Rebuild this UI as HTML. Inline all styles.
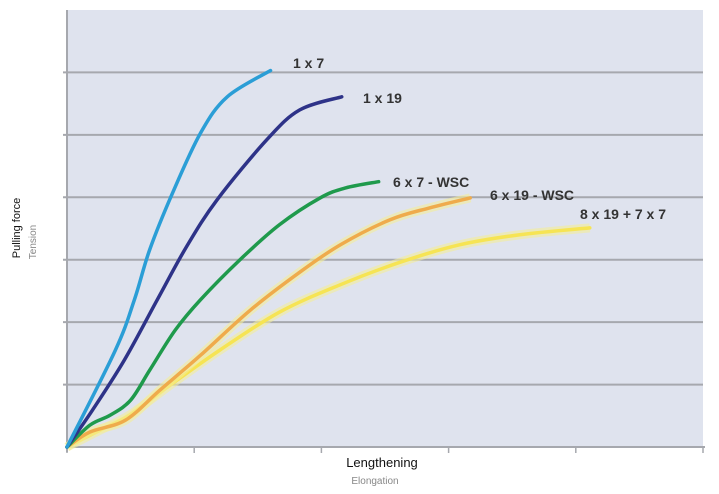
<!DOCTYPE html>
<html><head><meta charset="utf-8"><style>
body{margin:0;background:#fff;width:719px;height:489px;overflow:hidden;font-family:"Liberation Sans",sans-serif}
</style></head><body>
<svg id="chart" width="719" height="489">
<rect x="67" y="10" width="636" height="437" fill="#dfe3ee"/>
<g id="grid"></g><g id="series"></g><g id="labels"></g>
<text transform="translate(20,228) rotate(-90)" text-anchor="middle" font-size="11" fill="#111">Pulling force</text>
<text transform="translate(36,242) rotate(-90)" text-anchor="middle" font-size="10" fill="#888">Tension</text>
<text x="382" y="467" text-anchor="middle" font-size="13" fill="#111">Lengthening</text>
<text x="375" y="484" text-anchor="middle" font-size="10" fill="#888">Elongation</text>
</svg>
<script>
const xTicks=[0,1,2,3,4,5];
const yTicks=[0,1,2,3,4,5,6,7];
const names=["1 x 7","1 x 19","6 x 7 - WSC","6 x 19 - WSC","8 x 19 + 7 x 7"];
const x1x7=[0,.38,.53,.65,.83,1.05,1.26,1.60];
const y1x7=[0,1.55,2.36,3.16,4.07,5.03,5.61,6.03];
const x1x19=[0,.20,.45,.71,.94,1.18,1.57,1.83,2.16];
const y1x19=[0,.59,1.39,2.36,3.21,3.96,4.92,5.40,5.61];
const x6x7=[0,.18,.34,.50,.65,.85,1.05,1.36,1.67,1.99,2.19,2.45];
const y6x7=[0,.35,.51,.75,1.23,1.87,2.36,3.00,3.56,3.99,4.15,4.25];
const x6x19=[0,.18,.46,.73,1.05,1.44,1.83,2.15,2.54,2.85,3.17];
const y6x19=[0,.24,.43,.91,1.47,2.19,2.80,3.24,3.64,3.83,3.99];
const x8x19=[0,.26,.49,.81,1.20,1.67,2.15,2.62,3.09,3.56,4.11];
const y8x19=[0,.27,.51,.99,1.55,2.16,2.60,2.96,3.24,3.40,3.51];
const NS="http://www.w3.org/2000/svg";
const X0=67,X1=703,Y0=447,Y1=10;
const sx=v=>X0+v/5*(X1-X0), sy=v=>Y0-v/7*(Y0-Y1);
const grid=document.getElementById('grid');
function mk(tag,a,parent){const e=document.createElementNS(NS,tag);for(const k in a)e.setAttribute(k,a[k]);parent.appendChild(e);return e;}
yTicks.forEach(t=>{
 if(t>0&&t<7){const l=mk('line',{x1:X0-4,x2:X1,y1:sy(t),y2:sy(t),stroke:'#a6a8ae','stroke-width':2},grid);
 
 }
});
const ax=mk('line',{x1:X0,x2:X0,y1:Y1,y2:Y0+5,stroke:'#a6a8ae','stroke-width':2},grid);


const bx=mk('line',{x1:X0,x2:X1+2,y1:Y0,y2:Y0,stroke:'#a6a8ae','stroke-width':2},grid);


xTicks.forEach(t=>{const l=mk('line',{x1:sx(t),x2:sx(t),y1:Y0,y2:Y0+6,stroke:'#a6a8ae','stroke-width':1.5},grid);
 
 });
function path(xs,ys){const p=xs.map((x,i)=>[sx(x),sy(ys[i])]);let d='M'+p[0];
 for(let i=0;i<p.length-1;i++){const a=p[Math.max(0,i-1)],b=p[i],c=p[i+1],e=p[Math.min(p.length-1,i+2)];
 d+=` C${b[0]+(c[0]-a[0])/6},${b[1]+(c[1]-a[1])/6} ${c[0]-(e[0]-b[0])/6},${c[1]-(e[1]-b[1])/6} ${c[0]},${c[1]}`;}return d;}
const ser=[[x8x19,y8x19,'#f6e454'],[x6x19,y6x19,'#efab4c'],[x6x7,y6x7,'#1f9a4c'],[x1x19,y1x19,'#2e3388'],[x1x7,y1x7,'#2b9ed6']];
const sg=document.getElementById('series');
ser.forEach((s,i)=>{
 if(i<2){const g=mk('path',{d:path(s[0],s[1]),fill:'none',stroke:'#f4ec9a','stroke-width':9,'stroke-opacity':0.6},sg);
 
 }
 const p=mk('path',{d:path(s[0],s[1]),fill:'none',stroke:s[2],'stroke-width':3.5,'stroke-linecap':'round'},sg);
 
 
});
const lg=document.getElementById('labels');
const lp=[[293,68],[363,103],[393,187],[490,200],[580,219]];
names.forEach((n,i)=>{const t=mk('text',{x:lp[i][0],y:lp[i][1],'font-size':14,'font-weight':'bold',fill:'#333'},lg);
 t.textContent=n;
 
 });
</script>
</body></html>
